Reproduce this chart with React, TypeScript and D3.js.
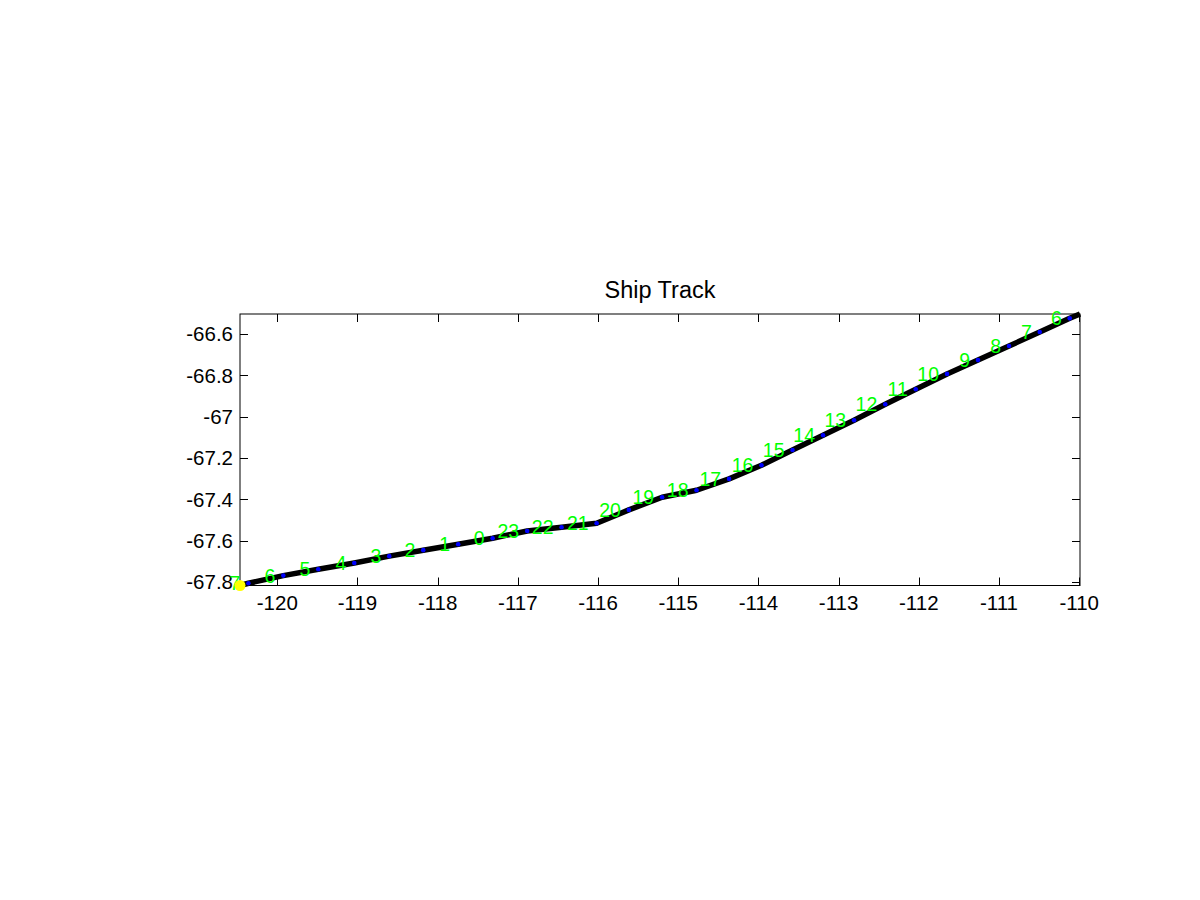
import React, { useRef, useEffect } from 'react';
import * as d3 from 'd3';

// hourly fixes along the track (lon, lat)
const fixLon = [
  -120.36, -119.925, -119.489, -119.04, -118.604, -118.18, -117.744, -117.315,
  -116.884, -116.455, -116.018, -115.616, -115.201, -114.772, -114.366, -113.962,
  -113.575, -113.194, -112.807, -112.418, -112.038, -111.648, -111.262, -110.875,
  -110.492, -110.118,
];
const fixLat = [
  -67.806, -67.769, -67.738, -67.708, -67.675, -67.646, -67.617, -67.588,
  -67.553, -67.535, -67.516, -67.451, -67.39, -67.356, -67.301, -67.235,
  -67.161, -67.09, -67.017, -66.94, -66.867, -66.793, -66.726, -66.658,
  -66.59, -66.524,
];
const hourLabels = [
  '7', '6', '5', '4', '3', '2', '1', '0', '23', '22', '21', '20', '19', '18',
  '17', '16', '15', '14', '13', '12', '11', '10', '9', '8', '7', '6',
];
// track ends
const startPos = [-120.465, -67.817];
const endPos = [-109.99, -66.503];

const xTicks = [-120, -119, -118, -117, -116, -115, -114, -113, -112, -111, -110];
const yTicks = [-66.6, -66.8, -67, -67.2, -67.4, -67.6, -67.8];

function ShipTrack() {
  const svgRef = useRef(null);

  useEffect(() => {
    const svg = d3.select(svgRef.current);
    svg.selectAll('*').remove();

    const width = 1200;
    const height = 900;
    const box = { left: 240, right: 1080, top: 314, bottom: 585.5 };
    const font = 'Arial, "Liberation Sans", Helvetica, sans-serif';
    const tickLen = 8;

    svg.attr('width', width).attr('height', height);

    const x = d3.scaleLinear().domain([startPos[0], endPos[0]]).range([box.left, box.right]);
    const y = d3.scaleLinear().domain([startPos[1], endPos[1]]).range([box.bottom, box.top]);

    svg.append('rect')
      .attr('width', width)
      .attr('height', height)
      .attr('fill', '#fff');

    // axes box
    svg.append('rect')
      .attr('x', box.left)
      .attr('y', box.top)
      .attr('width', box.right - box.left)
      .attr('height', box.bottom - box.top)
      .attr('fill', 'none')
      .attr('stroke', '#000')
      .attr('stroke-width', 1);

    // ticks, pointing inward on all four sides
    const ticks = svg.append('g').attr('stroke', '#000').attr('stroke-width', 1);
    xTicks.forEach(t => {
      const px = Math.round(x(t)) + 0.5;
      ticks.append('line').attr('x1', px).attr('x2', px).attr('y1', box.bottom).attr('y2', box.bottom - tickLen);
      ticks.append('line').attr('x1', px).attr('x2', px).attr('y1', box.top).attr('y2', box.top + tickLen);
    });
    yTicks.forEach(t => {
      const py = Math.round(y(t)) + 0.5;
      ticks.append('line').attr('x1', box.left).attr('x2', box.left + tickLen).attr('y1', py).attr('y2', py);
      ticks.append('line').attr('x1', box.right).attr('x2', box.right - tickLen).attr('y1', py).attr('y2', py);
    });

    svg.append('g')
      .selectAll('text')
      .data(xTicks)
      .enter()
      .append('text')
      .attr('x', d => x(d))
      .attr('y', box.bottom + 24.5)
      .attr('text-anchor', 'middle')
      .attr('font-family', font)
      .attr('font-size', 20.5)
      .text(d => d);

    svg.append('g')
      .selectAll('text')
      .data(yTicks)
      .enter()
      .append('text')
      .attr('x', box.left - 7)
      .attr('y', d => y(d))
      .attr('dy', '0.36em')
      .attr('text-anchor', 'end')
      .attr('font-family', font)
      .attr('font-size', 20.5)
      .text(d => d);

    // title
    svg.append('text')
      .attr('x', (box.left + box.right) / 2)
      .attr('y', 298)
      .attr('text-anchor', 'middle')
      .attr('font-family', font)
      .attr('font-size', 23.5)
      .text('Ship Track');

    // track line
    const pts = [startPos].concat(fixLon.map((lon, i) => [lon, fixLat[i]])).concat([endPos]);
    svg.append('path')
      .datum(pts)
      .attr('d', d3.line().x(d => x(d[0])).y(d => y(d[1])))
      .attr('fill', 'none')
      .attr('stroke', '#000')
      .attr('stroke-width', 5.5)
      .attr('stroke-linejoin', 'round');

    // hourly dots
    svg.append('g')
      .selectAll('circle')
      .data(fixLon)
      .enter()
      .append('circle')
      .attr('cx', d => x(d))
      .attr('cy', (d, i) => y(fixLat[i]))
      .attr('r', 2.3)
      .attr('fill', '#0000ff');

    // hour labels
    svg.append('g')
      .selectAll('text')
      .data(hourLabels)
      .enter()
      .append('text')
      .attr('x', (d, i) => x(fixLon[i]) - 8)
      .attr('y', (d, i) => y(fixLat[i]))
      .attr('dy', '0.36em')
      .attr('text-anchor', 'end')
      .attr('font-family', font)
      .attr('font-size', 19.5)
      .attr('fill', '#00ff00')
      .text(d => d);

    // start marker
    svg.append('circle')
      .attr('cx', x(startPos[0]))
      .attr('cy', y(startPos[1]))
      .attr('r', 5.5)
      .attr('fill', '#ffff00');
  }, []);

  return <svg ref={svgRef} style={{ position: 'absolute', left: 0, top: 0 }}></svg>;
}

export default function App() {
  return <ShipTrack />;
}
